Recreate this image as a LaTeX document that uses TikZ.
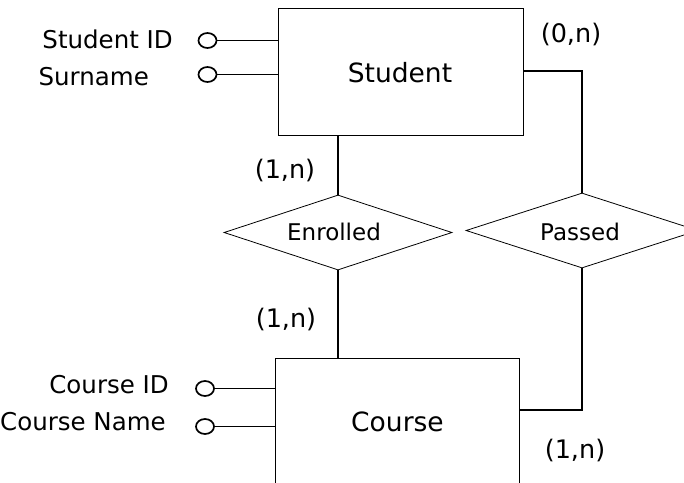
\documentclass[tikz,border=0pt]{standalone}
\usepackage{fontspec}
\setmainfont{DejaVu Sans}
\usetikzlibrary{shapes.geometric}
\begin{document}
\begin{tikzpicture}[x=1pt,y=-1pt,
  entity/.style={draw,line width=0.9pt,minimum width=245pt},
  entitylabel/.style={anchor=base,inner sep=0pt,font=\fontsize{26.5}{30}\selectfont},
  relation/.style={draw,diamond,aspect=3.05,inner sep=0pt,line width=0.8pt},
  rellabel/.style={anchor=base,inner sep=0pt,font=\fontsize{23}{27}\selectfont},
  attr/.style={ellipse,draw,line width=1.7pt,minimum width=18pt,minimum height=15pt,inner sep=0pt},
  attrlabel/.style={anchor=base east,inner sep=0pt,font=\fontsize{24.5}{28}\selectfont},
  card/.style={anchor=base,inner sep=0pt,font=\fontsize{25.5}{29}\selectfont},
  link/.style={line width=1.7pt}]
\useasboundingbox (0,0) rectangle (684,482);
\clip (0,0) rectangle (684,482);

% entities (the Course box runs past the lower edge)
\node[entity,minimum height=127pt] (student) at (400.5,71.5) {};
\node[entity,minimum height=160pt,minimum width=244pt] (course) at (397,438) {};
\node[entitylabel] (studenttext) at (400,82) {Student};
\node[entitylabel] (coursetext) at (397.5,431) {Course};

% relationships
\node[relation,minimum width=228pt,minimum height=75pt] (enrolled) at (338,232.5) {};
\node[relation,minimum width=232pt,minimum height=75pt] (passed) at (582,230.5) {};
\node[rellabel] (enrolledtext) at (334,240) {Enrolled};
\node[rellabel] (passedtext) at (580,240) {Passed};

% attributes of Student
\node[attr] (sid) at (207.5,40.5) {};
\node[attr] (ssur) at (207.5,74.5) {};
\node[attrlabel] (sidl) at (173,48) {Student ID};
\node[attrlabel] (ssurl) at (149,85) {Surname};
\draw[link] (sid.east) -- (sid.east -| student.west);
\draw[link] (ssur.east) -- (ssur.east -| student.west);

% attributes of Course
\node[attr] (cid) at (205,388.5) {};
\node[attr] (cname) at (205,426.5) {};
\node[attrlabel] (cidl) at (169,393) {Course ID};
\node[attrlabel] (cnamel) at (166,430) {Course Name};
\draw[link] (cid.east) -- (cid.east -| course.west);
\draw[link] (cname.east) -- (cname.east -| course.west);

% connectors
\coordinate (sright) at (523,71);
\coordinate (cright) at (519,410);
\draw[link] (student.south -| enrolled.north) -- (enrolled.north);
\draw[link] (enrolled.south) -- (enrolled.south |- course.north);
\draw[link] (sright) -| (passed.north);
\draw[link] (passed.south) |- (cright);

% cardinalities
\node[card] (c1) at (285,178) {(1,n)};
\node[card] (c2) at (286,327) {(1,n)};
\node[card] (c3) at (571,42) {(0,n)};
\node[card] (c4) at (575,458) {(1,n)};
\end{tikzpicture}
\end{document}
